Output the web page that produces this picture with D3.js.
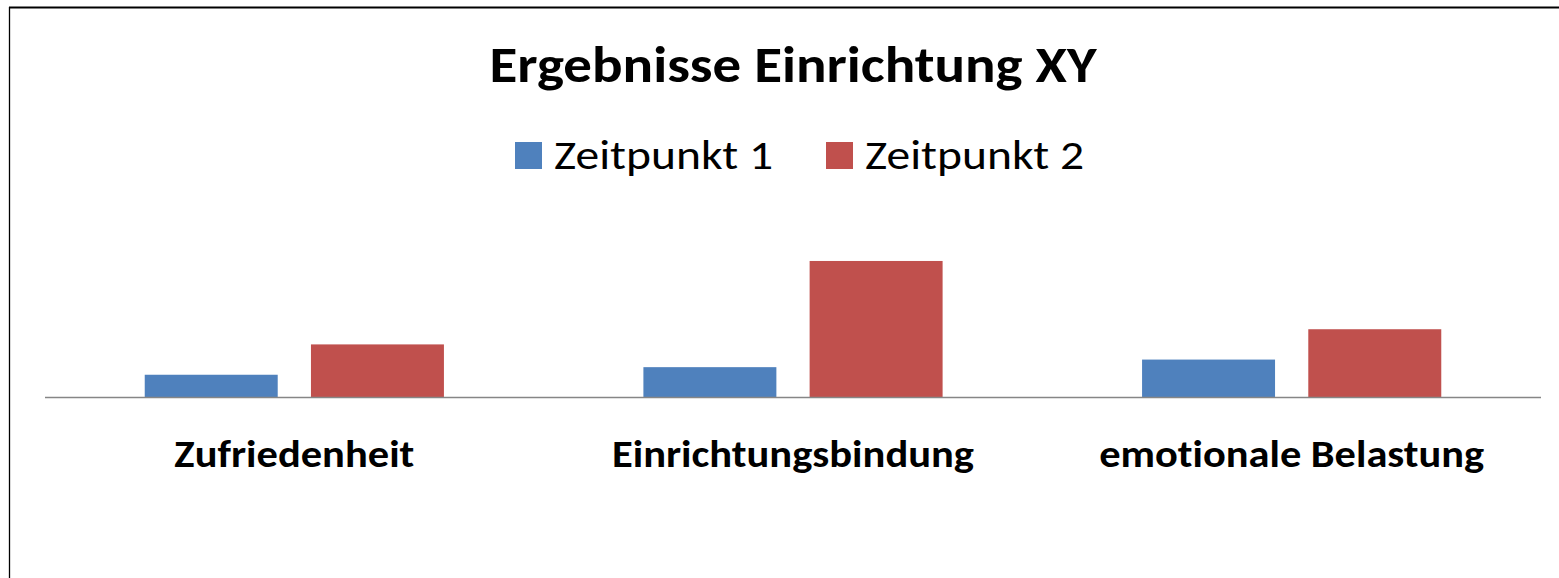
<html>
<head>
  <meta charset="utf-8">
  <title>Ergebnisse Einrichtung XY</title>
  <style>
    body { margin: 0; background: #fff; }
    text { font-family: Carlito, Calibri, Lato, "Open Sans", sans-serif; font-variant-ligatures: none; }
  </style>
</head>
<body>
<script src="https://cdn.jsdelivr.net/npm/d3@7"></script>
<script>
// Daten
var categories = ["Zufriedenheit", "Einrichtungsbindung", "emotionale Belastung"];
var seriesNames = ["Zeitpunkt 1", "Zeitpunkt 2"];
var zeitpunkt1 = [1.5, 2, 2.5];
var zeitpunkt2 = [3.5, 9, 4.5];
var colors = ["#4F81BD", "#C0504D"];
var titleText = "Ergebnisse Einrichtung XY";

var width = 1559, height = 578;
var baseY = 397.5;

var svg = d3.select("body").append("svg")
  .attr("width", width)
  .attr("height", height);

// Rahmen (oben + links)
svg.append("line").attr("x1", 9).attr("x2", width).attr("y1", 7.5).attr("y2", 7.5)
  .attr("stroke", "#000").attr("stroke-width", 2);
svg.append("line").attr("x1", 9.5).attr("x2", 9.5).attr("y1", 7).attr("y2", height)
  .attr("stroke", "#000").attr("stroke-width", 1.3);

var x0 = d3.scaleBand().domain(categories).range([45, 1541]).padding(0);
var x1 = d3.scaleBand().domain(seriesNames).range([0, x0.bandwidth()])
  .paddingInner(0.2).paddingOuter(0.6);
var y = d3.scaleLinear().domain([0, 10]).range([baseY, baseY - 151.7]);

var rows = categories.map(function(c, i) {
  return { cat: c, values: [zeitpunkt1[i], zeitpunkt2[i]] };
});

var groups = svg.selectAll(".grp")
  .data(rows)
  .enter().append("g")
  .attr("class", "grp")
  .attr("transform", d => "translate(" + x0(d.cat) + ",0)");

groups.selectAll("rect")
  .data(d => d.values.map((v, j) => ({ s: seriesNames[j], v: v, j: j })))
  .enter().append("rect")
  .attr("x", d => x1(d.s))
  .attr("y", d => y(d.v))
  .attr("width", x1.bandwidth())
  .attr("height", d => y(0) - y(d.v))
  .attr("fill", d => colors[d.j]);

// Grundlinie
svg.append("line")
  .attr("x1", 45).attr("x2", 1541)
  .attr("y1", baseY).attr("y2", baseY)
  .attr("stroke", "#868686").attr("stroke-width", 1.7);

// Kategorienbeschriftung
var catWidths = [240, 362, 385];
svg.selectAll(".cat")
  .data(categories)
  .enter().append("text")
  .attr("class", "cat")
  .attr("x", d => x0(d) + x0.bandwidth() / 2)
  .attr("y", 466.5)
  .attr("text-anchor", "middle")
  .attr("font-size", 39)
  .attr("font-weight", "bold")
  .attr("textLength", (d, i) => catWidths[i])
  .attr("lengthAdjust", "spacingAndGlyphs")
  .text(d => d);

// Titel
svg.append("text")
  .attr("x", 793).attr("y", 82)
  .attr("text-anchor", "middle")
  .attr("font-size", 50)
  .attr("font-weight", "bold")
  .attr("textLength", 607)
  .attr("lengthAdjust", "spacingAndGlyphs")
  .text(titleText);

// Legende
var legX = [515, 826];
var leg = svg.selectAll(".leg")
  .data(seriesNames)
  .enter().append("g")
  .attr("class", "leg")
  .attr("transform", (d, i) => "translate(" + legX[i] + ",142)");
leg.append("rect")
  .attr("width", 27).attr("height", 27)
  .attr("fill", (d, i) => colors[i]);
leg.append("text")
  .attr("x", 39).attr("y", 26.5)
  .attr("font-size", 41)
  .attr("textLength", 219)
  .attr("lengthAdjust", "spacingAndGlyphs")
  .text(d => d);
</script>
</body>
</html>
